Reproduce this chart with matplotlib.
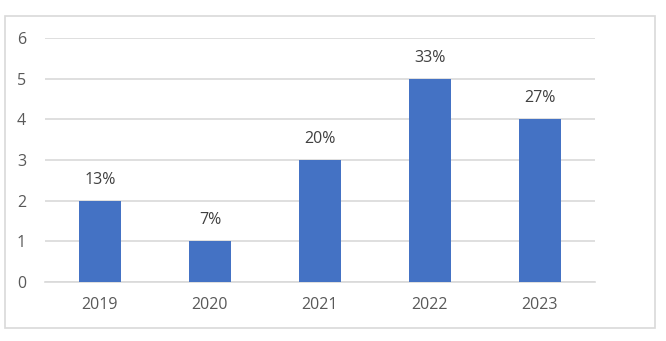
import matplotlib.pyplot as plt
from matplotlib.patches import Rectangle

years = ['2019', '2020', '2021', '2022', '2023']
counts = [2, 1, 3, 5, 4]
pct_labels = ['13%', '7%', '20%', '33%', '27%']

W, H = 666, 341
fig = plt.figure(figsize=(W / 100, H / 100), dpi=100)
plt.rcParams['font.family'] = ['Open Sans', 'DejaVu Sans']

# chart frame
fig.patches.append(Rectangle((5 / W, 1 - 328 / H), 650 / W, 312 / H,
                             transform=fig.transFigure, fill=False,
                             edgecolor='#d9d9d9', linewidth=1.2))

ax = fig.add_axes([45 / W, 1 - 282 / H, 550 / W, 244 / H])
x = range(len(years))
bars = ax.bar(x, counts, width=0.39, color='#4472C4', zorder=3)
for xi, c, lab in zip(x, counts, pct_labels):
    ax.text(xi, c + 0.32, lab, ha='center', va='bottom', fontsize=11.5, color='#404040')

ax.set_xlim(-0.5, 4.5)
ax.set_ylim(0, 6)
ax.set_yticks(range(7))
ax.set_xticks(list(x))
ax.set_xticklabels(years)
ax.grid(axis='y', color='#d9d9d9', linewidth=1.2, zorder=0)
for s in ['top', 'right', 'left']:
    ax.spines[s].set_visible(False)
ax.spines['bottom'].set_color('#d9d9d9')
ax.spines['bottom'].set_linewidth(1.2)
ax.tick_params(length=0, labelsize=11.5, labelcolor='#595959')
ax.tick_params(axis='y', pad=17)
ax.tick_params(axis='x', pad=11)
for t in ax.get_yticklabels():
    t.set_horizontalalignment('center')

plt.savefig('out.png', dpi=100)
